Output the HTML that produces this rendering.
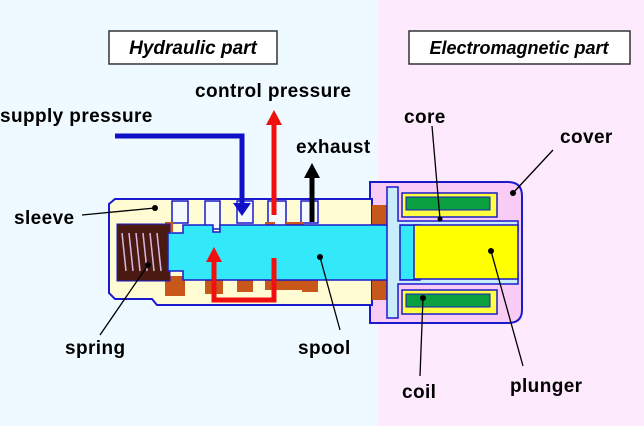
<!DOCTYPE html>
<html><head><meta charset="utf-8"><style>
html,body{margin:0;padding:0;background:#fff}
svg{display:block}
text{font-family:"Liberation Sans",Arial,sans-serif;font-weight:bold;fill:#000}
</style></head><body>
<svg width="644" height="426" viewBox="0 0 644 426" xmlns="http://www.w3.org/2000/svg">
<rect x="0" y="0" width="378" height="426" fill="#eefaff"/>
<rect x="378" y="0" width="266" height="426" fill="#fdeafc"/>
<rect x="109" y="31" width="168" height="33" fill="#fff" stroke="#333" stroke-width="1.5"/>
<text x="193" y="54" font-size="19" font-style="italic" text-anchor="middle">Hydraulic part</text>
<rect x="409" y="31" width="221" height="33" fill="#fff" stroke="#333" stroke-width="1.5"/>
<text x="519" y="54" font-size="18" font-style="italic" text-anchor="middle">Electromagnetic part</text>

<path d="M370,182 H508 Q522,182 522,196 V310 Q522,323 508,323 H370 Z" fill="#f8ccf4" stroke="#1a1acc" stroke-width="2"/>
<path d="M109,204 L115,199 H152 L157,199 H372 V305 H157 L152,299 H115 L109,293 Z" fill="#fffbd2" stroke="#1a1acc" stroke-width="2"/>
<g fill="#f4f8ff" stroke="#1a1acc" stroke-width="1.5">
<rect x="172" y="201" width="16" height="22"/>
<rect x="205" y="201" width="15" height="28"/>
<rect x="237" y="201" width="16" height="22"/>
<rect x="268" y="201" width="18" height="26"/>
<rect x="301" y="201" width="17" height="22"/>
</g>
<g fill="#c8581a">
<rect x="165" y="222" width="8" height="10"/>
<rect x="165" y="276" width="20" height="20"/>
<rect x="205" y="280" width="18" height="14"/>
<rect x="237" y="280" width="16" height="12"/>
<rect x="265" y="222" width="10" height="10"/>
<rect x="286" y="222" width="18" height="10"/>
<rect x="265" y="278" width="40" height="12"/>
<rect x="302" y="280" width="16" height="12"/>
<rect x="372" y="205" width="16" height="95"/>
</g>
<rect x="117" y="224" width="53" height="57" fill="#4a1a12" stroke="#1a1acc" stroke-width="1"/>
<g stroke="#d8b8e0" stroke-width="1.5">
<line x1="122" y1="233" x2="126" y2="271"/><line x1="129" y1="233" x2="133" y2="271"/>
<line x1="136" y1="233" x2="140" y2="271"/><line x1="143" y1="233" x2="147" y2="271"/>
<line x1="150" y1="233" x2="154" y2="271"/><line x1="157" y1="233" x2="161" y2="271"/>
</g>
<path d="M168,233 H183 V225 H213 V232 H220 V225 H420 V280 H183 V271 H168 Z" fill="#33e8f8" stroke="#1a1acc" stroke-width="1.5"/>
<path d="M387,187 H398 V221 H518 V232 H420 V225 L400,225 V280 H420 V273 H518 V284 H398 V318 H387 Z" fill="#c8ecfa" stroke="#1a1acc" stroke-width="1.5"/>
<rect x="402" y="193" width="95" height="24" fill="#ffff40" stroke="#1a1acc" stroke-width="1.5"/>
<rect x="406" y="197" width="84" height="13" fill="#0aa040" stroke="#1a1acc" stroke-width="1"/>
<rect x="402" y="290" width="95" height="24" fill="#ffff40" stroke="#1a1acc" stroke-width="1.5"/>
<rect x="406" y="294" width="84" height="13" fill="#0aa040" stroke="#1a1acc" stroke-width="1"/>
<rect x="414" y="225" width="104" height="54" fill="#ffff00" stroke="#1a1acc" stroke-width="1.5"/>

<path d="M115,136 H242 V205" fill="none" stroke="#1010c8" stroke-width="5"/>
<polygon points="233,203 251,203 242,216" fill="#1010c8"/>
<line x1="274" y1="215" x2="274" y2="123" stroke="#f01010" stroke-width="5"/>
<polygon points="266,125 282,125 274,110" fill="#f01010"/>
<path d="M274,258 V300 H214 V258" fill="none" stroke="#f01010" stroke-width="5"/>
<polygon points="206,262 222,262 214,247" fill="#f01010"/>
<line x1="312" y1="222" x2="312" y2="176" stroke="#000" stroke-width="5"/>
<polygon points="304,178 320,178 312,163" fill="#000"/>

<g stroke="#000" stroke-width="1.3" fill="none">
<line x1="82" y1="215" x2="155" y2="208"/>
<line x1="100" y1="335" x2="148" y2="265"/>
<line x1="340" y1="330" x2="320" y2="257"/>
<line x1="432" y1="126" x2="440" y2="219"/>
<line x1="553" y1="150" x2="513" y2="193"/>
<line x1="420" y1="376" x2="423" y2="298"/>
<line x1="523" y1="366" x2="491" y2="251"/>
</g>
<g fill="#000">
<circle cx="155" cy="208" r="3"/><circle cx="148" cy="265" r="3"/><circle cx="320" cy="257" r="3"/>
<circle cx="440" cy="219" r="2.5"/><circle cx="513" cy="193" r="3"/><circle cx="423" cy="298" r="3"/><circle cx="491" cy="251" r="3"/>
</g>

<g font-size="19" letter-spacing="0.4">
<text x="0" y="122">supply pressure</text>
<text x="195" y="97">control pressure</text>
<text x="296" y="153">exhaust</text>
<text x="14" y="224">sleeve</text>
<text x="65" y="354">spring</text>
<text x="298" y="354">spool</text>
<text x="404" y="123">core</text>
<text x="560" y="143">cover</text>
<text x="402" y="398">coil</text>
<text x="510" y="392">plunger</text>
</g>
</svg>
</body></html>
